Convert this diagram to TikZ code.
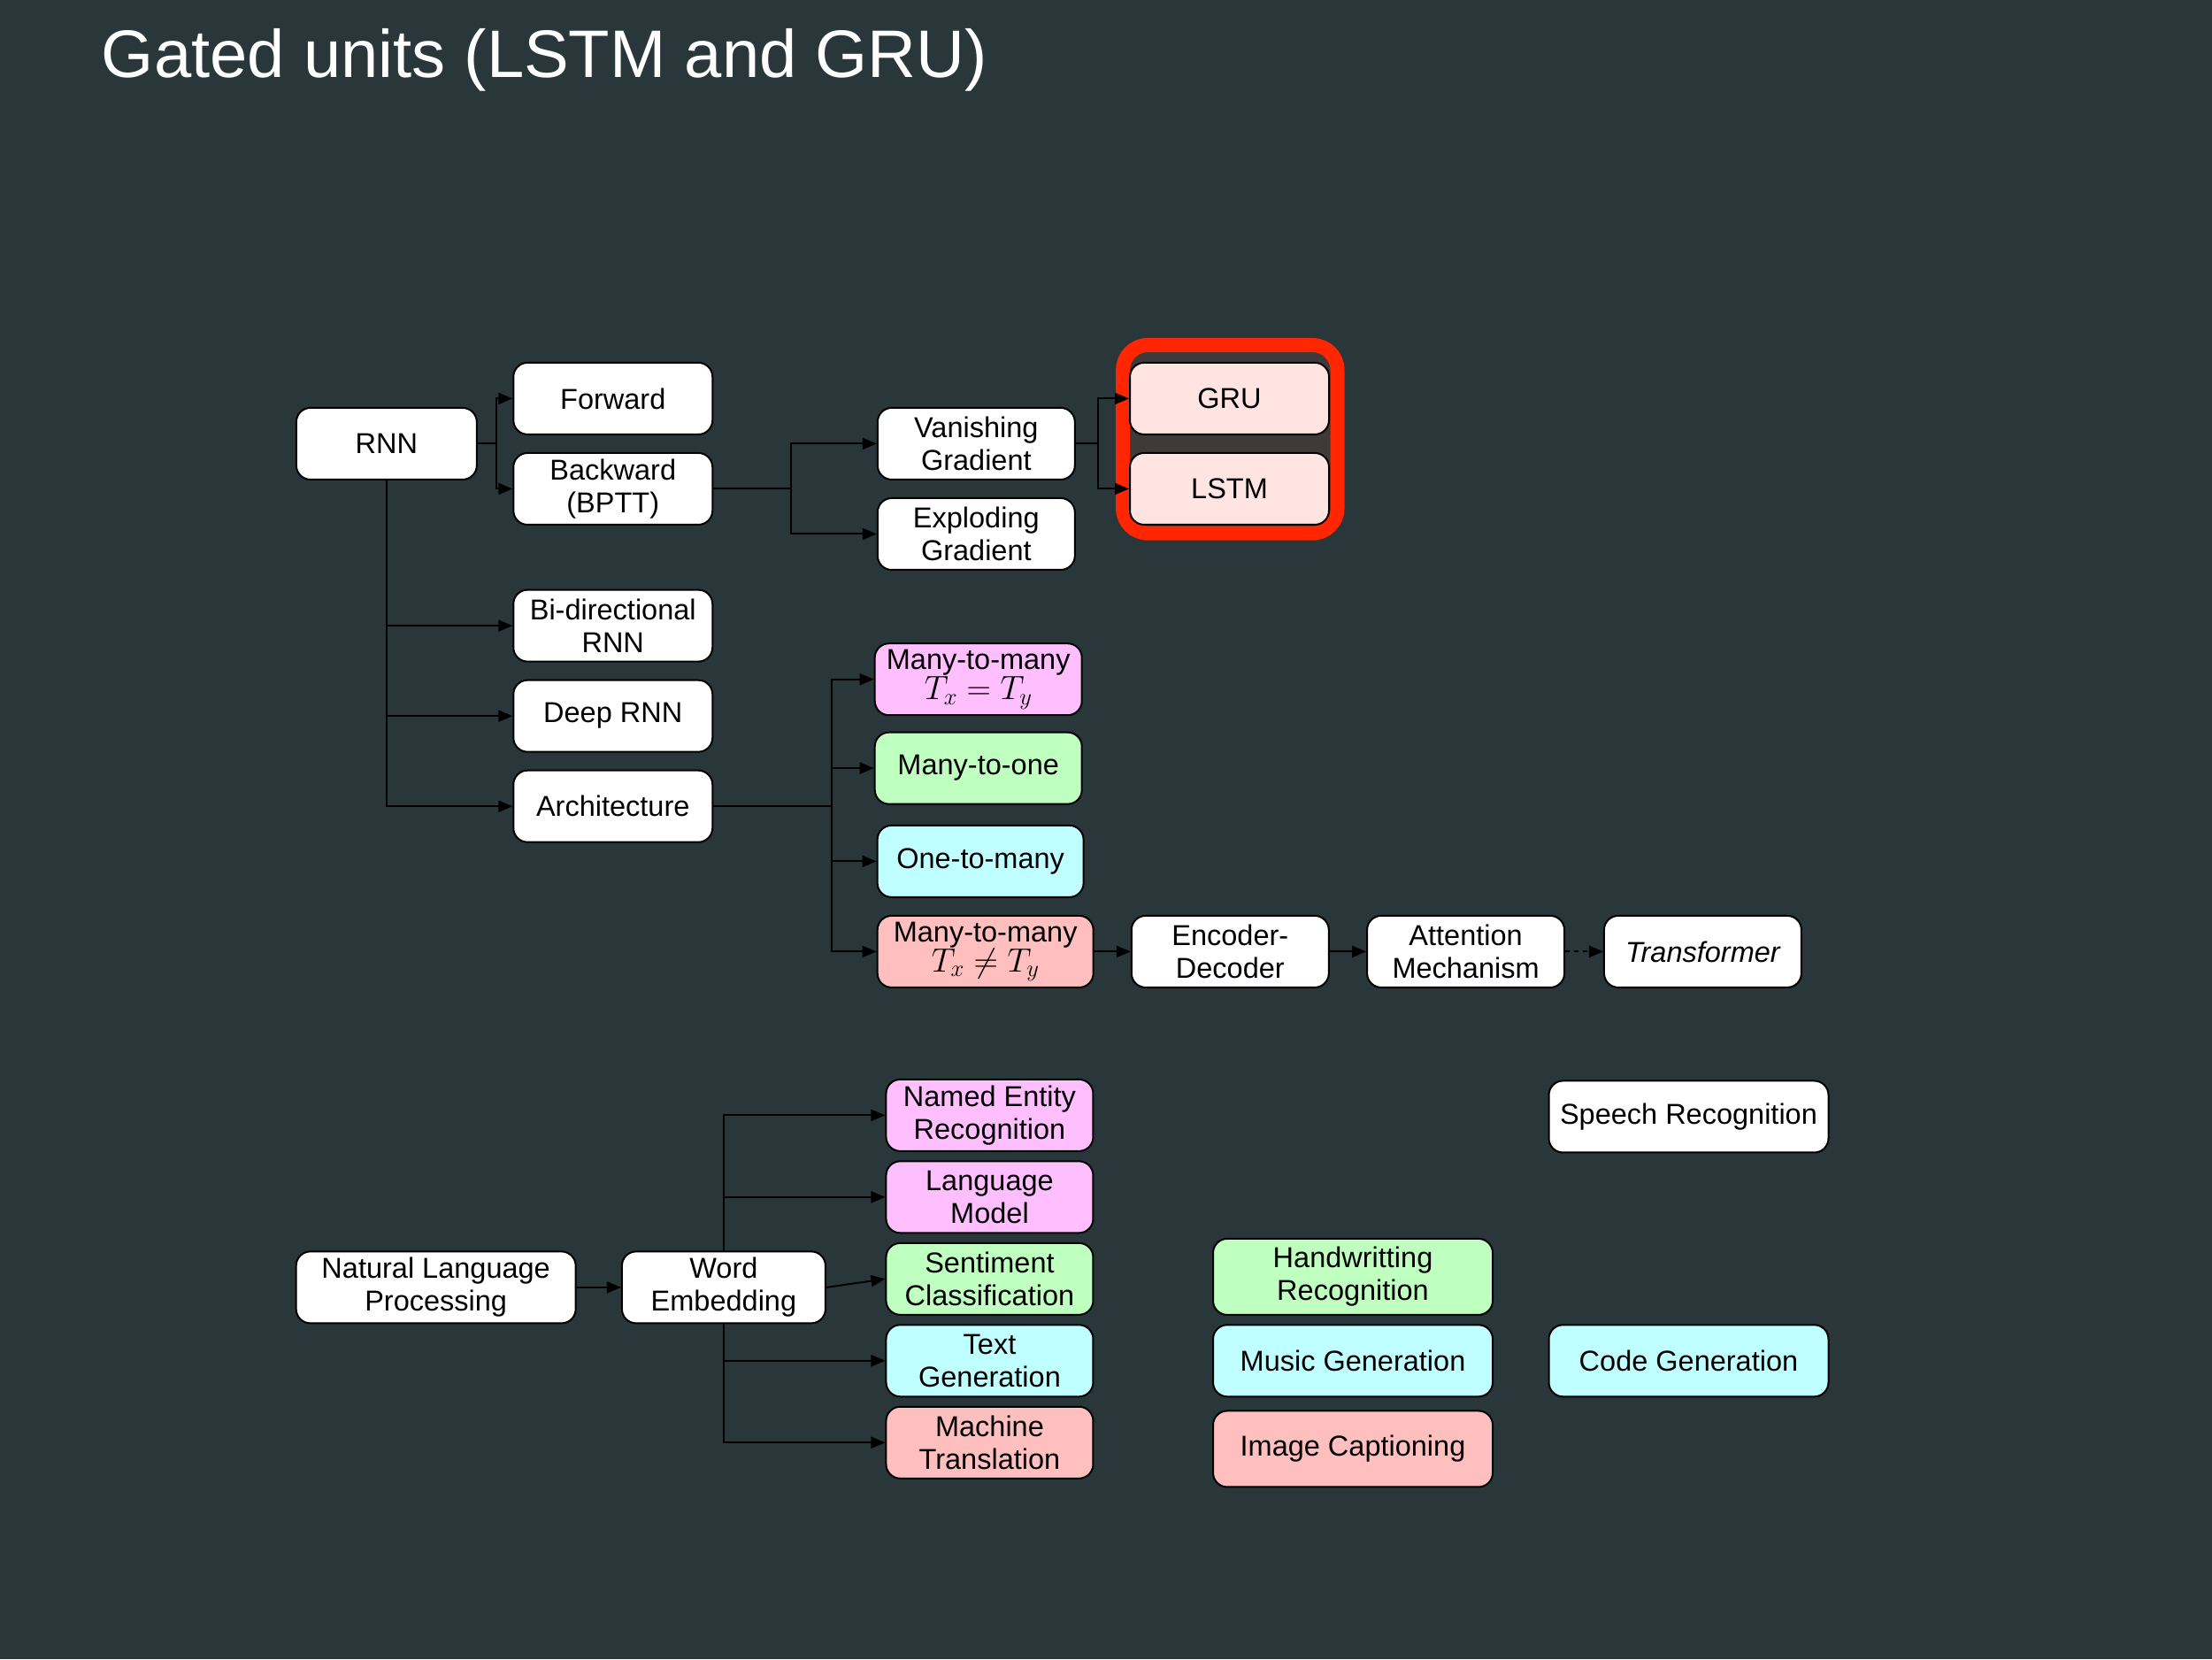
\RequirePackage{fix-cm}
\documentclass[tikz,border=0pt]{standalone}
\usepackage{fontspec}
\setmainfont{Liberation Sans}
\usetikzlibrary{arrows.meta}
\definecolor{bg}{RGB}{41,55,59}
\definecolor{pinkc}{RGB}{255,191,255}
\definecolor{greenc}{RGB}{191,255,191}
\definecolor{cyanc}{RGB}{191,255,255}
\definecolor{salmonc}{RGB}{255,191,191}
\definecolor{rosec}{RGB}{255,228,225}
\definecolor{redhl}{RGB}{255,38,0}
\definecolor{grpbg}{RGB}{64,57,57}
\newcommand{\bigmath}[1]{{\fontsize{38}{38}\selectfont$#1$}}
\tikzset{
  box/.style={draw=black, line width=2pt, rounded corners=16pt, fill=white,
    minimum height=81pt, minimum width=225pt, inner sep=2pt, align=center,
    font=\fontsize{32.5}{37}\selectfont, text=black},
  conn/.style={draw=black, line width=2pt, ->},
}
\begin{document}
\begin{tikzpicture}[x=1.594388pt,y=-1.594388pt,>={Triangle[length=16pt,width=13pt]}]
\fill[bg] (0,0) rectangle (1568,1176);
\useasboundingbox (0,0) rectangle (1568,1176);

\node[anchor=base west, text=white, inner sep=0, font=\fontsize{76}{90}\selectfont] (title) at (72,55) {Gated units (LSTM and GRU)};

% highlight group
\draw[redhl, line width=16pt, fill=grpbg, rounded corners=28pt] (796,244.6) rectangle (948,378);

% upper tree
\node[box, minimum width=204pt] (rnn) at (274,314.5) {RNN};
\node[box] (fwd) at (434.5,282.5) {Forward};
\node[box] (bwd) at (434.5,346.5) {Backward\\(BPTT)};
\node[box, minimum width=223pt] (van) at (692,314.5) {Vanishing\\Gradient};
\node[box, minimum width=223pt] (exp) at (692,378.5) {Exploding\\Gradient};
\node[box, fill=rosec] (gru) at (871.5,282.5) {GRU};
\node[box, fill=rosec] (lstm) at (871.5,346.5) {LSTM};
\node[box] (bi) at (434.5,443.5) {Bi-directional\\RNN};
\node[box] (deep) at (434.5,507.5) {Deep RNN};
\node[box] (arch) at (434.5,571.5) {Architecture};
\node[box, fill=pinkc, minimum width=234pt] (mme) at (693.5,481.5) {Many-to-many\\[-3pt]\bigmath{T_x = T_y}};
\node[box, fill=greenc, minimum width=234pt] (mto) at (693.5,544.5) {Many-to-one};
\node[box, fill=cyanc, minimum width=233pt] (otm) at (695,610.5) {One-to-many};
\node[box, fill=salmonc, minimum width=244pt] (mmn) at (698.5,674.5) {Many-to-many\\[-3pt]\bigmath{T_x \neq T_y}};
\node[box, minimum width=223pt] (enc) at (872,674.5) {Encoder-\\Decoder};
\node[box, minimum width=223pt] (att) at (1039,674.5) {Attention\\Mechanism};
\node[box, minimum width=223pt, font=\fontsize{32.5}{37}\selectfont\itshape] (trf) at (1207,674.5) {Transformer};

% lower tree
\node[box, minimum width=316pt] (nlp) at (309,912.5) {Natural Language\\Processing};
\node[box, minimum width=230pt] (we) at (513,912.5) {Word\\Embedding};
\node[box, fill=pinkc, minimum width=234pt] (ner) at (701.5,790.5) {Named Entity\\Recognition};
\node[box, fill=pinkc, minimum width=234pt] (lm) at (701.5,848.5) {Language\\Model};
\node[box, fill=greenc, minimum width=234pt] (sc) at (701.5,906.5) {Sentiment\\Classification};
\node[box, fill=cyanc, minimum width=234pt] (tg) at (701.5,964.5) {Text\\Generation};
\node[box, fill=salmonc, minimum width=234pt] (mt) at (701.5,1022.5) {Machine\\Translation};
\node[box, fill=greenc, minimum width=316pt, minimum height=86pt] (hw) at (959,905) {Handwritting\\Recognition};
\node[box, fill=cyanc, minimum width=316pt] (mg) at (959,964.5) {Music Generation};
\node[box, fill=salmonc, minimum width=316pt, minimum height=86pt] (ic) at (959,1027) {Image Captioning};
\node[box, minimum width=316pt] (sr) at (1197,791.5) {Speech Recognition};
\node[box, fill=cyanc, minimum width=316pt] (cg) at (1197,964.5) {Code Generation};

% connectors
\draw[conn] (rnn.east) -- ++(13,0) |- (fwd.west);
\draw[conn] (rnn.east) -- ++(13,0) |- (bwd.west);
\draw[conn] (rnn.south) |- (bi.west);
\draw[conn] (rnn.south) |- (deep.west);
\draw[conn] (rnn.south) |- (arch.west);
\draw[conn] (bwd.east) -- ++(55,0) |- (van.west);
\draw[conn] (bwd.east) -- ++(55,0) |- (exp.west);
\draw[conn] (van.east) -- ++(16,0) |- (gru.west);
\draw[conn] (van.east) -- ++(16,0) |- (lstm.west);
\draw[conn] (arch.east) -- ++(84,0) |- (mme.west);
\draw[conn] (arch.east) -- ++(84,0) |- (mto.west);
\draw[conn] (arch.east) -- ++(84,0) |- (otm.west);
\draw[conn] (arch.east) -- ++(84,0) |- (mmn.west);
\draw[conn] (mmn) -- (enc);
\draw[conn] (enc) -- (att);
\draw[conn, dash pattern=on 5pt off 5pt] (att) -- (trf);

\draw[conn] (nlp) -- (we);
\draw[conn] (we.north) |- (ner.west);
\draw[conn] (we.north) |- (lm.west);
\draw[conn] (we.east) -- (sc.west);
\draw[conn] (we.south) |- (tg.west);
\draw[conn] (we.south) |- (mt.west);
\end{tikzpicture}
\end{document}
